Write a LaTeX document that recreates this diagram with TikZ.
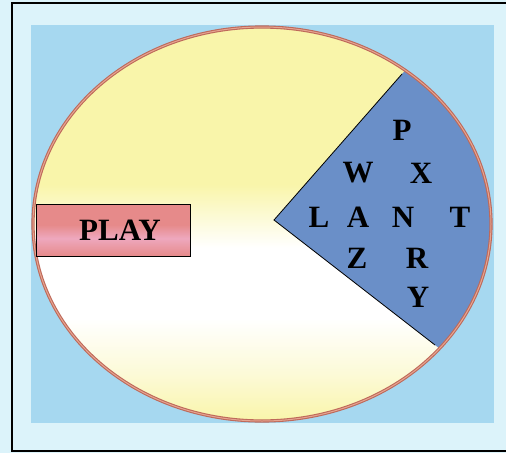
\documentclass[tikz,border=0pt]{standalone}
\usepackage{fontspec}
\setmainfont{Liberation Serif}
\usetikzlibrary{calc}
\definecolor{outerbg}{RGB}{220,243,250}
\definecolor{innerbg}{RGB}{166,216,240}
\definecolor{yel}{RGB}{249,245,170}
\definecolor{paleyel}{RGB}{252,250,215}
\definecolor{wedgecol}{RGB}{106,143,200}
\definecolor{ellcol}{RGB}{190,105,90}
\definecolor{ellin}{RGB}{230,165,145}
\definecolor{pinkA}{RGB}{230,138,138}
\definecolor{pinkB}{RGB}{238,168,190}
\pgfdeclareverticalshading{yelwhite}{100bp}{color(0bp)=(yel); color(25bp)=(yel); color(31bp)=(paleyel); color(38bp)=(white); color(47bp)=(white); color(55bp)=(yel); color(100bp)=(yel)}
\pgfdeclareverticalshading{pinkshade}{100bp}{color(0bp)=(pinkA); color(25bp)=(pinkA); color(42bp)=(pinkB); color(55bp)=(pinkA); color(100bp)=(pinkA)}
\tikzset{
  letter/.style={font=\fontsize{31}{31}\selectfont\bfseries, inner sep=0pt, anchor=center},
}
\begin{document}
\begin{tikzpicture}[x=1pt,y=-1pt]
\useasboundingbox (0,0) rectangle (506,453);
% backgrounds
\fill[outerbg] (0,0) rectangle (506,453);
\fill[innerbg] (31,25) rectangle (494,423);
\draw[black, line width=1.2pt] (506,3) -- (12,3) -- (12,451) -- (506,451);
% ellipse
\shade[shading=yelwhite] (262,224) ellipse [x radius=229, y radius=197];
% wedge
\coordinate (v) at (274,220);
\coordinate (u) at (402,74);
\coordinate (w) at (435,345);
\begin{scope}
\clip (262,224) ellipse [x radius=229, y radius=197];
\fill[wedgecol] (v) -- ($(v)!2!(u)$) -- (620,-80) -- (620,480) -- ($(v)!2!(w)$) -- cycle;
\end{scope}
\draw[black, line width=0.8pt] (u) -- (v) -- (w);
\draw[ellcol, line width=1.1pt, double=ellin, double distance=1pt] (262,224) ellipse [x radius=229, y radius=197];
% PLAY box
\shade[shading=pinkshade, draw=black, line width=0.9pt] (36,204) rectangle (190,256);
\node[letter] (play) at (120,230) {PLAY};
% letters
\node[letter] (P) at (402,130) {P};
\node[letter] (W) at (358,173) {W};
\node[letter] (X) at (421,173) {X};
\node[letter] (L) at (319,217) {L};
\node[letter] (A) at (358,217) {A};
\node[letter] (N) at (403,217) {N};
\node[letter] (T) at (460,217) {T};
\node[letter] (Z) at (357,258) {Z};
\node[letter] (R) at (417,258) {R};
\node[letter] (Y) at (418,297) {Y};
\end{tikzpicture}
\end{document}
